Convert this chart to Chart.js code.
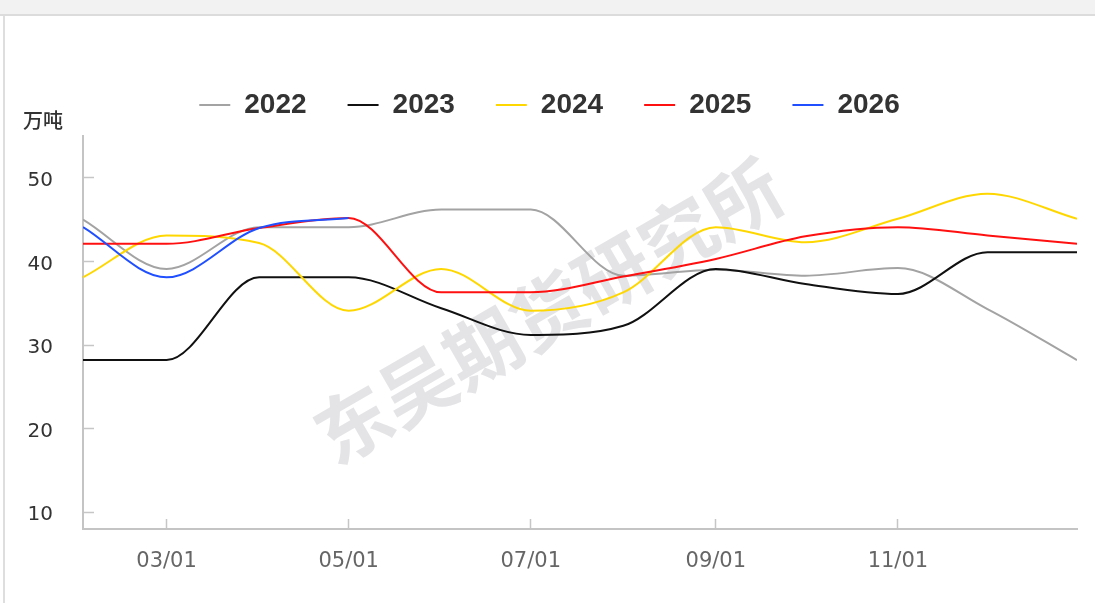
<!DOCTYPE html>
<html>
<head>
<meta charset="utf-8">
<script src="https://cdn.jsdelivr.net/npm/chart.js@4.4.0/dist/chart.umd.min.js"></script>
<style>
  html, body { margin: 0; padding: 0; background: #fff; }
  body { width: 1095px; height: 603px; position: relative; overflow: hidden; }
  .topbar { position: absolute; left: 0; top: 0; width: 1095px; height: 14px; background: #f2f2f2; border-bottom: 2px solid #dcdcdc; }
  .leftline { position: absolute; left: 3px; top: 16px; width: 2px; height: 587px; background: #dedede; }
  #wrap { position: absolute; left: 0; top: 0; width: 1095px; height: 603px; }
</style>
</head>
<body>
<div class="topbar"></div>
<div class="leftline"></div>
<div id="wrap"><canvas id="chart"></canvas></div>
<script>
const dates = ['02/01', '03/01', '04/01', '05/01', '06/01', '07/01', '08/01', '09/01', '10/01', '11/01', '12/01', '12/31'];
const years = ['2022', '2023', '2024', '2025', '2026'];
const s2022 = [45.0, 39.1, 44.1, 44.1, 46.2, 46.2, 38.3, 39.0, 38.3, 39.2, 34.3, 28.2];
const s2023 = [28.2, 28.2, 38.1, 38.1, 34.4, 31.2, 32.3, 39.1, 37.3, 36.1, 41.1, 41.1];
const s2024 = [38.1, 43.1, 42.2, 34.1, 39.1, 34.1, 36.3, 44.1, 42.3, 45.1, 48.1, 45.1];
const s2025 = [42.1, 42.1, 44.0, 45.2, 36.3, 36.3, 38.2, 40.3, 43.0, 44.1, 43.1, 42.1];
const s2026 = [44.1, 38.1, 44.0, 45.2];
const lineColors = ['#a3a3a3', '#111111', '#ffd700', '#ff1010', '#1f4fff'];
const xTickDates = ['03/01', '05/01', '07/01', '09/01', '11/01'];
const yTicks = [10, 20, 30, 40, 50];
const unitLabel = '万吨';
const watermark = '东吴期货研究所';

function dayOfYear(md) {
    const [m, d] = md.split('/').map(Number);
    return (Date.UTC(2023, m - 1, d) - Date.UTC(2023, 0, 1)) / 86400000;
}

function toPoints(values) {
    return values.map((v, i) => ({ x: dayOfYear(dates[i]), y: v }));
}

const allSeries = [s2022, s2023, s2024, s2025, s2026];
const datasets = years.map((year, i) => ({
    label: year,
    data: toPoints(allSeries[i]),
    borderColor: lineColors[i],
    backgroundColor: lineColors[i],
    borderWidth: 2,
    pointRadius: 0,
    fill: false,
    cubicInterpolationMode: 'monotone',
    order: years.length - i
}));

// extra room under the legend
const legendGap = {
    id: 'legendGap',
    beforeInit(chart) {
        const fitLegend = chart.legend.fit;
        chart.legend.fit = function () {
            fitLegend.bind(chart.legend)();
            this.height += 7;
        };
    }
};

// watermark behind the lines, unit label over the y axis
const decorations = {
    id: 'decorations',
    beforeDatasetsDraw(chart) {
        const ctx = chart.ctx;
        ctx.save();
        ctx.translate(548, 311);
        ctx.rotate(-30 * Math.PI / 180);
        ctx.font = 'bold 75px "Noto Sans CJK SC"';
        ctx.fillStyle = '#e4e4e7';
        ctx.textAlign = 'center';
        ctx.textBaseline = 'middle';
        ctx.fillText(watermark, 0, 0);
        ctx.restore();
    },
    afterDraw(chart) {
        const ctx = chart.ctx;
        ctx.save();
        ctx.font = '500 20px "Noto Sans CJK SC"';
        ctx.fillStyle = '#333';
        ctx.textAlign = 'center';
        ctx.textBaseline = 'middle';
        ctx.fillText(unitLabel, 43, 120);
        ctx.restore();
    }
};

const ctx = document.getElementById('chart').getContext('2d');
new Chart(ctx, {
    type: 'line',
    data: { datasets },
    plugins: [legendGap, decorations],
    options: {
        responsive: true,
        maintainAspectRatio: false,
        animation: false,
        layout: { padding: { top: 50, left: 22, right: 18, bottom: 0 } },
        plugins: {
            tooltip: { enabled: false },
            legend: {
                position: 'top',
                labels: {
                    usePointStyle: true,
                    pointStyle: 'line',
                    pointStyleWidth: 31,
                    padding: 41,
                    color: '#333',
                    font: { family: '"Liberation Sans"', size: 28, weight: 'bold' },
                    sort: (a, b) => a.datasetIndex - b.datasetIndex
                }
            }
        },
        scales: {
            x: {
                type: 'linear',
                min: dayOfYear(dates[0]),
                max: dayOfYear(dates[dates.length - 1]),
                afterBuildTicks: scale => { scale.ticks = xTickDates.map(d => ({ value: dayOfYear(d) })); },
                afterFit: scale => { scale.height = 74; },
                grid: { drawOnChartArea: false, drawTicks: true, tickLength: -10, tickColor: '#c6c6c6', tickWidth: 1.5 },
                border: { color: '#c4c4c4', width: 2 },
                ticks: {
                    padding: 30,
                    color: '#666',
                    font: { family: '"DejaVu Sans"', size: 21 },
                    maxRotation: 0,
                    callback: (value, index) => xTickDates[index]
                }
            },
            y: {
                min: 8,
                max: 55,
                afterBuildTicks: scale => { scale.ticks = yTicks.map(v => ({ value: v })); },
                afterFit: scale => { scale.width = 61; },
                grid: { drawOnChartArea: false, drawTicks: true, tickLength: -11, tickColor: '#c6c6c6', tickWidth: 1.5 },
                border: { color: '#c4c4c4', width: 2 },
                ticks: {
                    padding: 41,
                    labelOffset: 3,
                    color: '#333',
                    font: { family: '"DejaVu Sans"', size: 20 }
                }
            }
        }
    }
});
</script>
</body>
</html>
